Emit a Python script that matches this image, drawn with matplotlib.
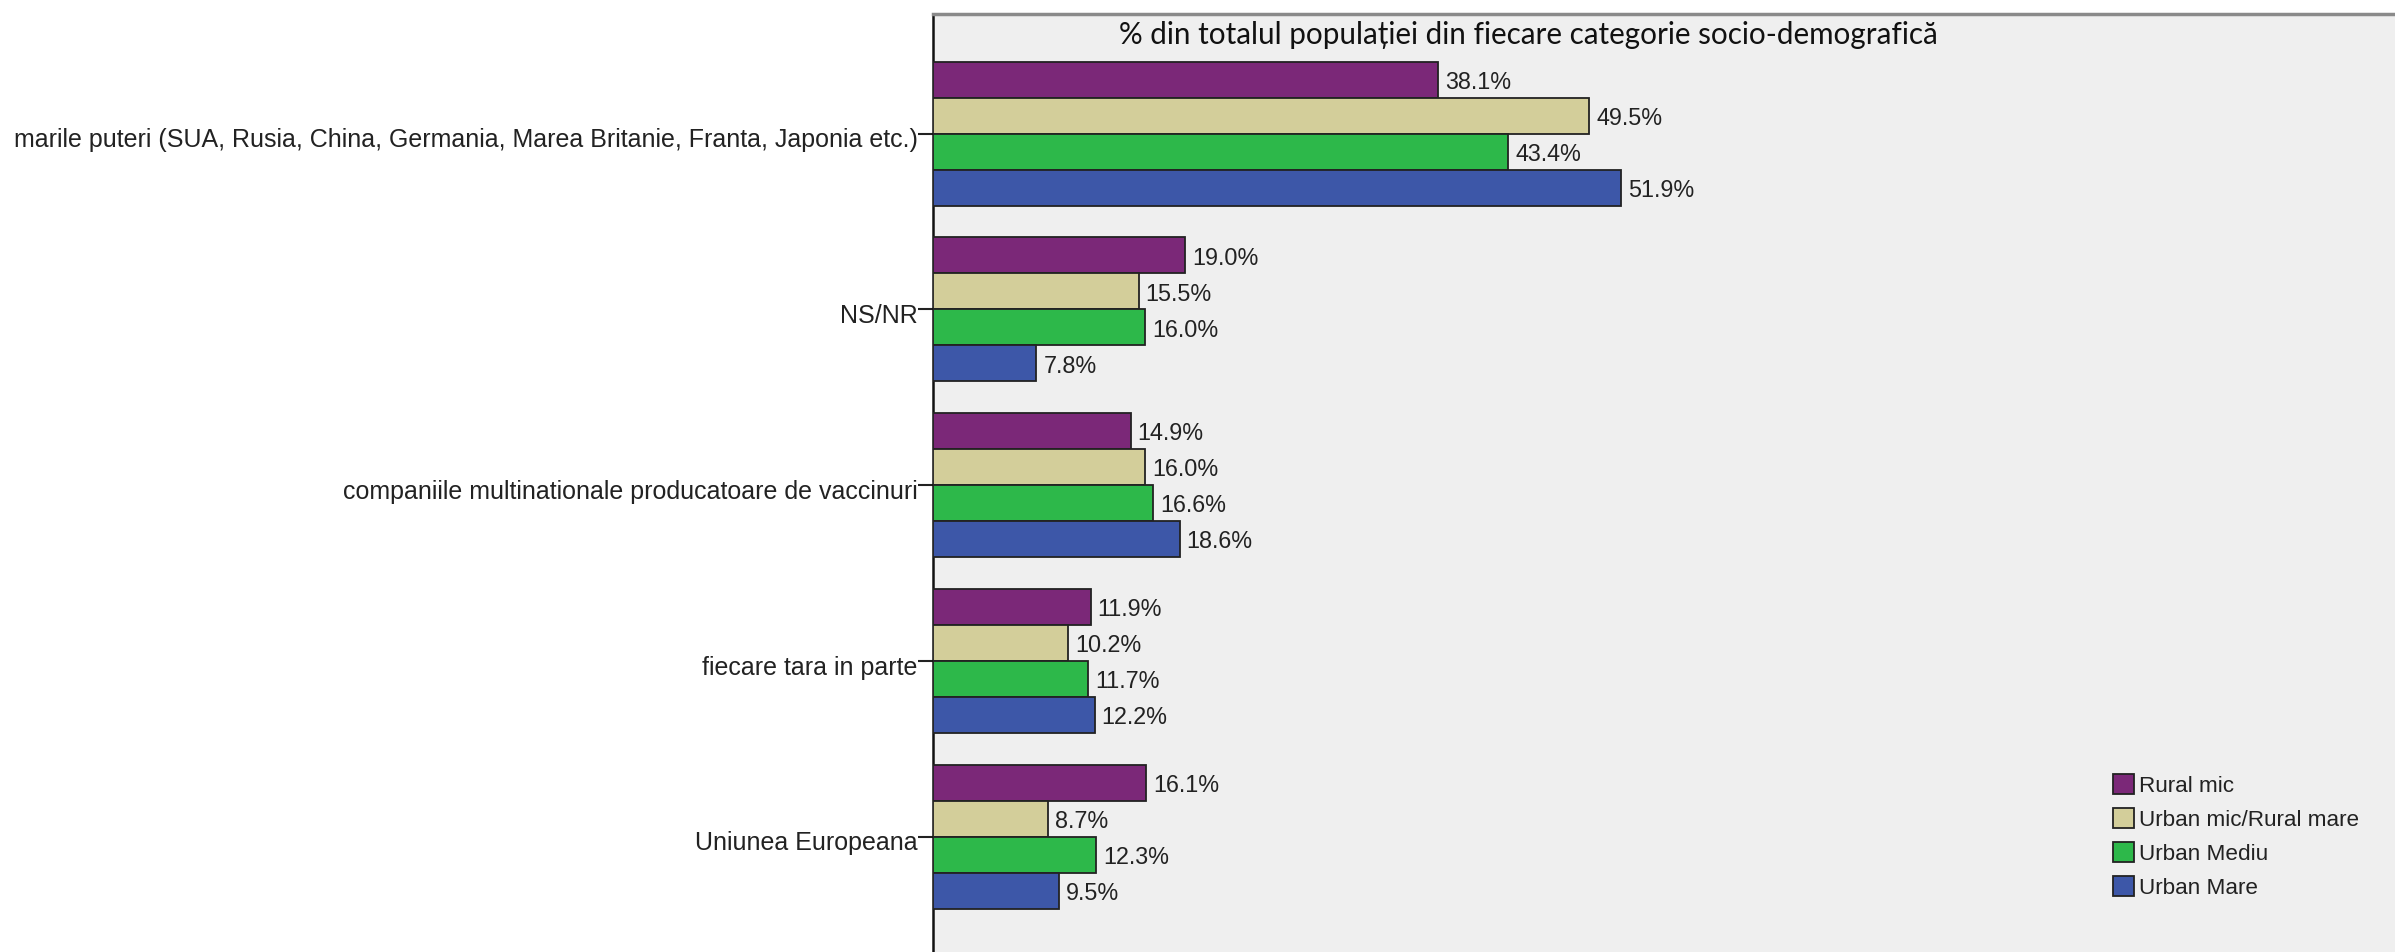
import matplotlib
matplotlib.use("Agg")
import matplotlib.pyplot as plt
import matplotlib.transforms as mtransforms
import numpy as np
from matplotlib.patches import Patch

categories = [
    "marile puteri (SUA, Rusia, China, Germania, Marea Britanie, Franta, Japonia etc.)",
    "NS/NR",
    "companiile multinationale producatoare de vaccinuri",
    "fiecare tara in parte",
    "Uniunea Europeana",
]
series_names = ["Rural mic", "Urban mic/Rural mare", "Urban Mediu", "Urban Mare"]
rural_mic = [38.1, 19.0, 14.9, 11.9, 16.1]
urban_mic_rural_mare = [49.5, 15.5, 16.0, 10.2, 8.7]
urban_mediu = [43.4, 16.0, 16.6, 11.7, 12.3]
urban_mare = [51.9, 7.8, 18.6, 12.2, 9.5]
title = "% din totalul populației din fiecare categorie socio-demografică"

series = [rural_mic, urban_mic_rural_mare, urban_mediu, urban_mare]
colors = ["#7B2878", "#D3CE9A", "#2DB84A", "#3D57A8"]

W, H = 2395, 952
dpi = 100
fig = plt.figure(figsize=(W / dpi, H / dpi), dpi=dpi, facecolor="white")
left_px, top_px = 933, 14
ax = fig.add_axes([left_px / W, 0, 1 - left_px / W, 1 - top_px / H])
ax.set_facecolor("#EFEFEF")

bar_h = 0.2048
y = np.arange(len(categories))
offsets = (np.arange(4) - 1.5) * bar_h
label_font = "Liberation Sans"
for k, (vals, col) in enumerate(zip(series, colors)):
    bars = ax.barh(y + offsets[k], vals, height=bar_h, color=col,
                   edgecolor="#222222", linewidth=1.3, label=series_names[k], zorder=3)
    for b, v in zip(bars, vals):
        ax.annotate(f"{v:.1f}%", (b.get_width(), b.get_y() + b.get_height() / 2),
                    xytext=(5, -2), textcoords="offset points", va="center", ha="left",
                    fontsize=16.8, family=label_font, color="#222222", zorder=4)

ax.set_xlim(0, 110.26)
ax.set_ylim(4.656, -0.680)
ax.set_xticks([])
ax.set_yticks(y)
ax.set_yticklabels(categories, fontsize=18, family=label_font, color="#222222")
ax.tick_params(axis="y", direction="out", length=11, width=1.5, pad=0, color="#222222")
shift = mtransforms.ScaledTranslation(0, -3 / 72, fig.dpi_scale_trans)
for lbl in ax.get_yticklabels():
    lbl.set_transform(lbl.get_transform() + shift)

for s in ["right", "bottom"]:
    ax.spines[s].set_visible(False)
ax.spines["left"].set_color("#111111")
ax.spines["left"].set_linewidth(1.8)
ax.spines["top"].set_color("#8A8A8A")
ax.spines["top"].set_linewidth(2.5)

fig.text(1528 / W, 1 - 35 / H, title, ha="center", va="center",
         fontsize=21.3, family="Lato", color="#111111")

handles = [Patch(facecolor=c, edgecolor="#222222", linewidth=1.3) for c in colors]
leg = fig.legend(handles, series_names, loc="upper left",
                 bbox_to_anchor=(2113 / W, 1 - 774 / H), frameon=False,
                 prop={"family": label_font, "size": 16.2},
                 handlelength=0.92, handleheight=1.0, handletextpad=0.22,
                 labelspacing=0.5, borderpad=0, borderaxespad=0)
for t in leg.get_texts():
    t.set_color("#222222")

fig.savefig("out.png", dpi=dpi, facecolor="white")
